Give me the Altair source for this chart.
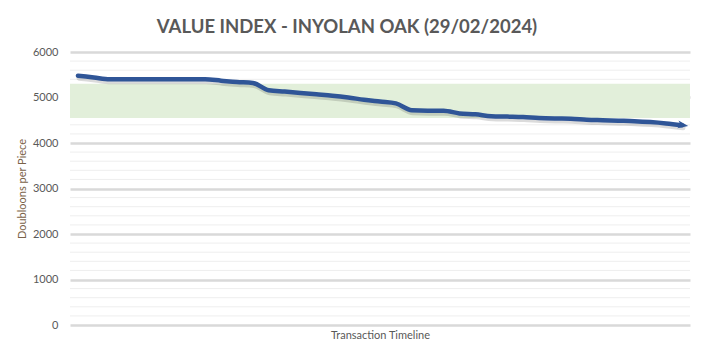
import altair as alt
import pandas as pd

# ---- data ----
values = [5480, 5440, 5400, 5400, 5400, 5400, 5400, 5400, 5400, 5370,
          5340, 5320, 5160, 5130, 5100, 5070, 5040, 5000, 4950, 4910,
          4870, 4720, 4710, 4710, 4650, 4630, 4590, 4580, 4570, 4550,
          4540, 4535, 4510, 4500, 4490, 4480, 4460, 4430, 4390]
steps = list(range(len(values)))
band_low = [4550]
band_high = [5300]
major_ticks = [0, 1000, 2000, 3000, 4000, 5000, 6000]
minor_ticks = [200 * i for i in range(31) if i % 5 != 0]

title_text = "VALUE INDEX - INYOLAN OAK (29/02/2024)"
x_title = "Transaction Timeline"
y_title = "Doubloons per Piece"

df = pd.DataFrame({"t": steps, "v": values})
last = df.tail(1)
band_df = pd.DataFrame({"lo": band_low, "hi": band_high})
minor_df = pd.DataFrame({"v": minor_ticks})

LINE = "#2f5597"
TXT = "#595959"
FONT = "Lato, sans-serif"

x_scale = alt.Scale(domain=[-0.5, len(values) - 0.5], nice=False, zero=False)
y_scale = alt.Scale(domain=[0, 6000], nice=False)

minor = alt.Chart(minor_df).mark_rule(color="#eeeeee", strokeWidth=1).encode(
    y=alt.Y("v:Q", scale=y_scale,
            axis=alt.Axis(values=major_ticks, format="d", title=y_title, grid=True,
                          gridColor="#d9d9d9", gridWidth=2.5, ticks=False,
                          domain=False, labelPadding=12, labelFontSize=11,
                          labelColor=TXT, labelFont=FONT,
                          titleFont=FONT, titleFontSize=11, titleFontWeight="normal",
                          titleColor="#7a6248", titlePadding=5))
)

band = alt.Chart(band_df).mark_rect(color="#e2efda").encode(
    y=alt.Y("lo:Q", scale=y_scale),
    y2="hi:Q",
)

shadow = alt.Chart(df).mark_line(
    color="#000000", opacity=0.14, strokeWidth=5, interpolate="monotone",
    xOffset=1, yOffset=2.5, strokeCap="round"
).encode(
    x=alt.X("t:Q", scale=x_scale),
    y=alt.Y("v:Q", scale=y_scale),
)

line = alt.Chart(df).mark_line(
    color=LINE, strokeWidth=4.5, interpolate="monotone", strokeCap="round"
).encode(
    x=alt.X("t:Q", scale=x_scale,
            axis=alt.Axis(title=x_title, labels=False, ticks=False, domain=False,
                          grid=False, titleFont=FONT, titleFontSize=11,
                          titleFontWeight="normal", titleColor=TXT, titlePadding=4)),
    y=alt.Y("v:Q", scale=y_scale),
)

arrow = alt.Chart(last).mark_point(
    shape="M -1 -0.75 L 1 0 L -1 0.75 L -0.45 0 Z",
    filled=True, color=LINE, opacity=1, size=110, angle=9, xOffset=1
).encode(
    x=alt.X("t:Q", scale=x_scale),
    y=alt.Y("v:Q", scale=y_scale),
)

chart = alt.layer(minor, band, shadow, line, arrow).properties(
    width=620, height=273,
    padding={"left": 62, "top": 44, "right": 6, "bottom": 26},
    autosize=alt.AutoSizeParams(type="none"),
    background="white",
    title=alt.Title(title_text, anchor="middle", dx=-33, offset=10,
                    font=FONT, fontSize=18.5, fontWeight="bold", color=TXT),
).configure_view(stroke=None)

chart.save("out.html", embed_options={"renderer": "svg", "actions": False})
